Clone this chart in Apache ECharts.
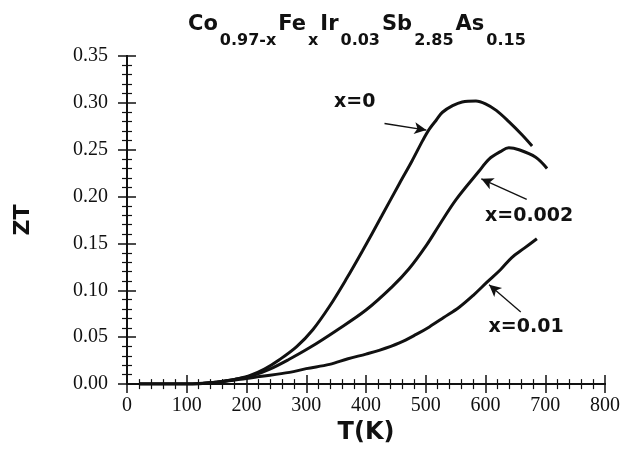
<!DOCTYPE html>
<html><head><meta charset="utf-8">
<script src="https://cdn.jsdelivr.net/npm/echarts@6/dist/echarts.min.js"></script>
<style>html,body{margin:0;padding:0;background:#fff}#c{width:623px;height:450px}</style>
</head><body><div id="c"></div>
<script>
// x = 0
const T_x0 = [20, 60, 100, 150, 180, 205, 230, 255, 284, 311, 339, 367, 394, 426, 456, 477, 495, 506, 518, 528, 545, 561, 584, 600, 618, 639, 661, 678];
const ZT_x0 = [0, 0, 0.000, 0.002, 0.005, 0.009, 0.016, 0.026, 0.040, 0.058, 0.083, 0.112, 0.142, 0.179, 0.214, 0.238, 0.260, 0.272, 0.282, 0.290, 0.297, 0.301, 0.302, 0.299, 0.292, 0.280, 0.266, 0.254];
// x = 0.002
const T_x002 = [20, 60, 100, 150, 180, 210, 239, 270, 306, 350, 400, 444, 472, 501, 523, 551, 589, 606, 625, 639, 656, 684, 703];
const ZT_x002 = [0, 0, 0, 0.002, 0.005, 0.009, 0.016, 0.026, 0.039, 0.057, 0.079, 0.104, 0.123, 0.148, 0.170, 0.197, 0.227, 0.240, 0.248, 0.252, 0.250, 0.242, 0.230];
// x = 0.01
const T_x01 = [20, 60, 100, 150, 200, 222, 272, 300, 339, 370, 400, 422, 456, 484, 506, 530, 556, 580, 603, 625, 644, 665, 686];
const ZT_x01 = [0, 0, 0, 0.002, 0.006, 0.008, 0.0125, 0.0165, 0.021, 0.027, 0.032, 0.036, 0.044, 0.053, 0.061, 0.071, 0.082, 0.095, 0.109, 0.122, 0.135, 0.145, 0.155];

const xTicks = [0, 100, 200, 300, 400, 500, 600, 700, 800];
const yTicks = [0.00, 0.05, 0.10, 0.15, 0.20, 0.25, 0.30, 0.35];

const labels = [
  {text: 'x=0', at: [381, 0.301], from: [431, 0.278], to: [501, 0.271]},
  {text: 'x=0.002', at: [673, 0.179], from: [669, 0.197], to: [593, 0.219]},
  {text: 'x=0.01', at: [668, 0.061], from: [659, 0.077], to: [606, 0.106]}
];

const pairs = (t, z) => t.map((v, i) => [v, z[i]]);

const chart = echarts.init(document.getElementById('c'), null, {renderer: 'canvas'});
const serif = 'Liberation Serif';
const bold = 'DejaVu Sans';

function mkSeries(t, z, lab) {
  return {
    type: 'line', data: pairs(t, z), showSymbol: false, smooth: 0.35,
    lineStyle: {color: '#111', width: 3}, z: 3,
    markLine: {
      silent: true, symbol: ['none', 'arrow'], symbolSize: [9, 12],
      lineStyle: {color: '#111', width: 1.3, type: 'solid'}, label: {show: false},
      data: [[{coord: lab.from}, {coord: lab.to}]]
    },
    markPoint: {
      silent: true, symbolSize: 0,
      label: {show: true, position: 'inside', color: '#111', fontFamily: bold, fontWeight: 'bold', fontSize: 19,
        formatter: lab.text},
      data: [{coord: lab.at, value: lab.text}]
    }
  };
}

const axisCommon = {
  type: 'value', axisLine: {lineStyle: {color: '#111', width: 2}},
  axisTick: {inside: true, length: 9, lineStyle: {color: '#111', width: 1.5}},
  minorTick: {show: true, splitNumber: 5, length: 5, lineStyle: {color: '#111', width: 1.2}},
  splitLine: {show: false}
};

chart.setOption({
  animation: false,
  backgroundColor: '#fff',
  title: {
    text: '{m|Co}{s|0.97-x}{m|Fe}{s|x}{m|Ir}{s|0.03}{m|Sb}{s|2.85}{m|As}{s|0.15}',
    left: 183, top: 9,
    textStyle: {
      rich: {
        m: {fontFamily: bold, fontWeight: 'bold', fontSize: 21, color: '#111', lineHeight: 22, verticalAlign: 'top'},
        s: {fontFamily: bold, fontWeight: 'bold', fontSize: 16, color: '#111', lineHeight: 16, padding: [19, 2, 0, 2], verticalAlign: 'top'}
      }
    }
  },
  grid: {left: 127, right: 17, top: 56, bottom: 58},
  xAxis: [
    Object.assign({}, axisCommon, {
      min: 0, max: 800, interval: 100, position: 'bottom',
      name: 'T(K)', nameLocation: 'middle', nameGap: 34,
      nameTextStyle: {fontFamily: bold, fontWeight: 'bold', fontSize: 24, color: '#111'},
      axisLabel: {fontFamily: serif, fontSize: 20, color: '#111', margin: 12,
        formatter: v => xTicks.includes(v) ? String(v) : ''}
    }),
    Object.assign({}, axisCommon, {min: 0, max: 800, interval: 100, position: 'top', axisLabel: {show: false}})
  ],
  yAxis: [
    Object.assign({}, axisCommon, {
      min: 0, max: 0.35, interval: 0.05, position: 'left',
      name: 'ZT', nameLocation: 'middle', nameGap: 93, nameRotate: 90,
      nameTextStyle: {fontFamily: bold, fontWeight: 'bold', fontSize: 22, color: '#111'},
      axisLabel: {fontFamily: serif, fontSize: 20, color: '#111', margin: 19,
        formatter: v => { const y = yTicks.find(t => Math.abs(t - v) < 1e-6); return y === undefined ? '' : y.toFixed(2); }}
    }),
    Object.assign({}, axisCommon, {min: 0, max: 0.35, interval: 0.05, position: 'right', axisLabel: {show: false}})
  ],
  series: [
    mkSeries(T_x0, ZT_x0, labels[0]),
    mkSeries(T_x002, ZT_x002, labels[1]),
    mkSeries(T_x01, ZT_x01, labels[2])
  ]
});
</script></body></html>
